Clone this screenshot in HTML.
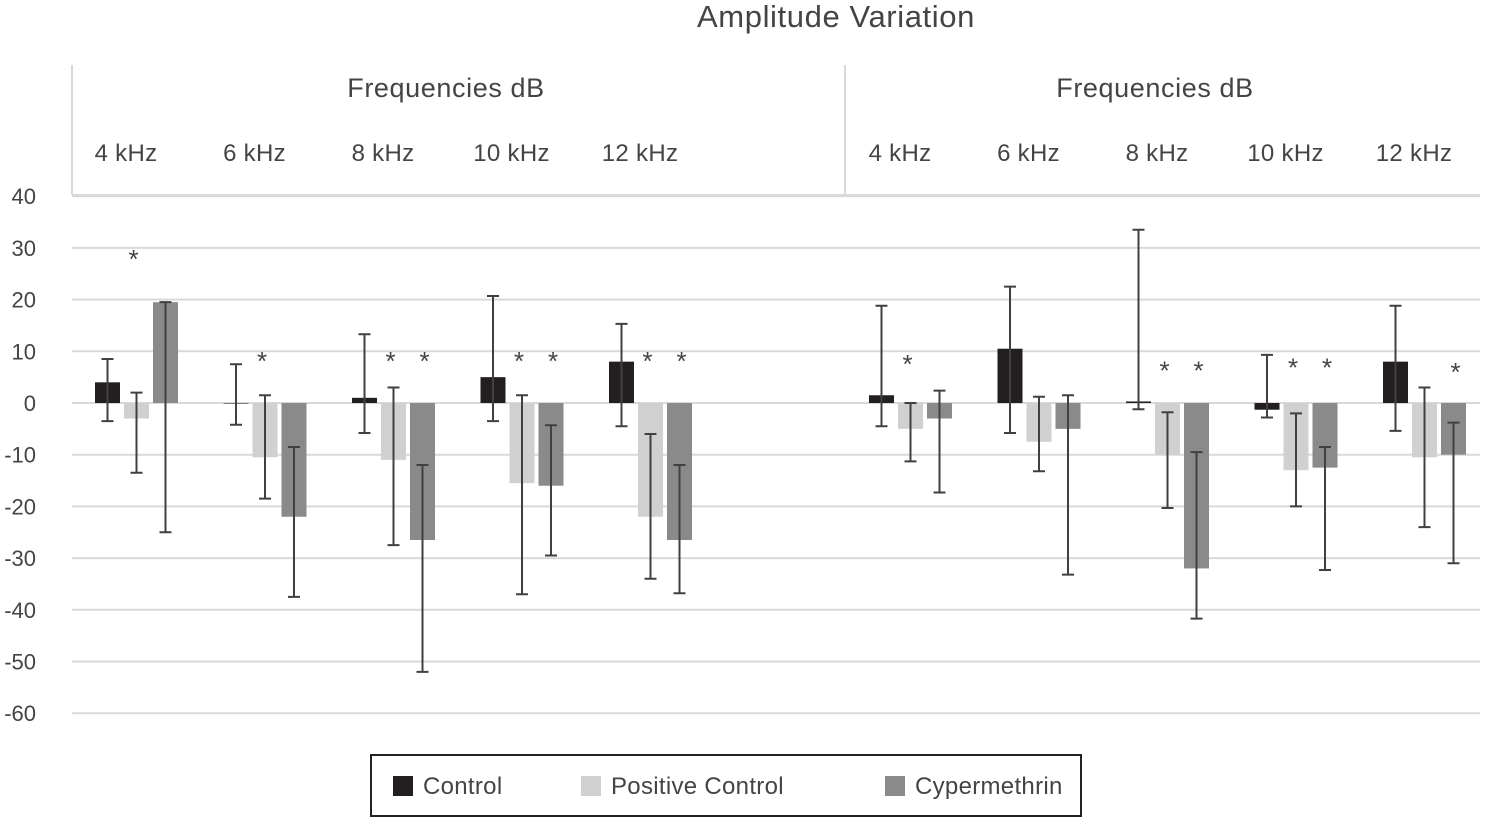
<!DOCTYPE html>
<html><head><meta charset="utf-8"><style>
body{margin:0;background:#fff;}
svg text{font-family:"Liberation Sans",sans-serif;fill:#444;}
</style></head><body>
<svg id="c" width="1495" height="820" xmlns="http://www.w3.org/2000/svg">
<text x="836" y="27" font-size="31" letter-spacing="0.6" text-anchor="middle">Amplitude Variation</text>
<g id="hdr">
<line x1="72" y1="65" x2="72" y2="195" stroke="#d9d9d9" stroke-width="2"/>
<line x1="845" y1="65" x2="845" y2="195" stroke="#d9d9d9" stroke-width="2"/>
<text x="446" y="97" font-size="27" letter-spacing="0.6" text-anchor="middle">Frequencies dB</text>
<text x="1155" y="97" font-size="27" letter-spacing="0.6" text-anchor="middle">Frequencies dB</text>
</g>
<g id="grid"></g><g id="bars"></g><g id="errs"></g><g id="stars"></g>
<g>
<rect x="371" y="755" width="710" height="61" fill="none" stroke="#222" stroke-width="2"/>
<rect x="393" y="776" width="20" height="20" fill="#231f20"/>
<text x="423" y="794" font-size="24" letter-spacing="0.3">Control</text>
<rect x="581" y="776" width="20" height="20" fill="#d0d0d0"/>
<text x="611" y="794" font-size="24" letter-spacing="0.3">Positive Control</text>
<rect x="885" y="776" width="20" height="20" fill="#8a8a8a"/>
<text x="915" y="794" font-size="24" letter-spacing="0.3">Cypermethrin</text>
</g>
</svg>
<script>
const freqs=["4 kHz","6 kHz","8 kHz","10 kHz","12 kHz"];
const yTicks=[40,30,20,10,0,-10,-20,-30,-40,-50,-60];
const controlL=[4,0,1,5,8];
const controlLHi=[8.5,7.5,13.3,20.7,15.3];
const controlLLo=[-3.5,-4.2,-5.8,-3.5,-4.5];
const posL=[-3,-10.5,-11,-15.5,-22];
const posLHi=[2,1.5,3,1.5,-6];
const posLLo=[-13.5,-18.5,-27.5,-37,-34];
const cypL=[19.5,-22,-26.5,-16,-26.5];
const cypLHi=[19.5,-8.5,-12,-4.3,-12];
const cypLLo=[-25,-37.5,-52,-29.5,-36.8];
const controlR=[1.5,10.5,0.3,-1.3,8];
const controlRHi=[18.8,22.5,33.5,9.3,18.8];
const controlRLo=[-4.5,-5.8,-1.2,-2.8,-5.4];
const posR=[-5,-7.5,-10,-13,-10.5];
const posRHi=[0,1.2,-1.8,-2,3];
const posRLo=[-11.3,-13.2,-20.3,-20,-24];
const cypR=[-3,-5,-32,-12.5,-10];
const cypRHi=[2.4,1.5,-9.5,-8.5,-3.8];
const cypRLo=[-17.3,-33.2,-41.7,-32.3,-31];
const starsL=[[1],[1],[1,2],[1,2],[1,2]];
const starsR=[[1],[],[1,2],[1,2],[2]];
const starYL=[29,9.3,9.3,9.3,9.3];
const starYR=[8.7,0,7.4,8,7.2];
const NS="http://www.w3.org/2000/svg";
const y=v=>403-v*5.17;
const mk=(p,t,a)=>{const e=document.createElementNS(NS,t);for(const k in a)e.setAttribute(k,a[k]);document.getElementById(p).appendChild(e);return e;};
yTicks.forEach(t=>{
 const l=mk('grid','line',{x1:72,x2:1480,y1:y(t),y2:y(t),stroke:'#d9d9d9','stroke-width':2});
 
 
 const tx=mk('grid','text',{x:36,y:y(t)+8,'font-size':22,'text-anchor':'end'});tx.textContent=t;
 
 
});
mk('grid','line',{x1:72,x2:1480,y1:195,y2:195,stroke:'#d9d9d9','stroke-width':2});
const colors=['#231f20','#d0d0d0','#8a8a8a'];
function side(start,series,starList,starY,lab){
 freqs.forEach((f,i)=>{
  const g0=start+128.5*i;
  const tx=mk('hdr','text',{x:g0+31,y:161,'font-size':24,'letter-spacing':0.3,'text-anchor':'middle'});tx.textContent=f;
  
  
  series.forEach((s,k)=>{
   const [v,hi,lo]=s;const x=g0+k*29;
   const r=mk('bars','rect',{x:x,y:Math.min(y(v[i]),y(0)),width:25,height:Math.max(Math.abs(y(v[i])-y(0)),0.5),fill:colors[k]});
   
   
   const cx=x+12.5;
   const e=mk('errs','path',{d:`M${cx},${y(hi[i])}V${y(lo[i])}M${cx-6},${y(hi[i])}h12M${cx-6},${y(lo[i])}h12`,stroke:'#404040','stroke-width':2,fill:'none'});
   
   
  });
  starList[i].forEach(k=>{
   const st=mk('stars','text',{x:g0+k*29+12.5-(k==1?3:-2),y:y(starY[i])+15,'font-size':26,'text-anchor':'middle'});st.textContent='*';
   
   
  });
 });
}
side(95,[[controlL,controlLHi,controlLLo],[posL,posLHi,posLLo],[cypL,cypLHi,cypLLo]],starsL,starYL,'left');
side(869,[[controlR,controlRHi,controlRLo],[posR,posRHi,posRLo],[cypR,cypRHi,cypRLo]],starsR,starYR,'right');
</script>
</body></html>
